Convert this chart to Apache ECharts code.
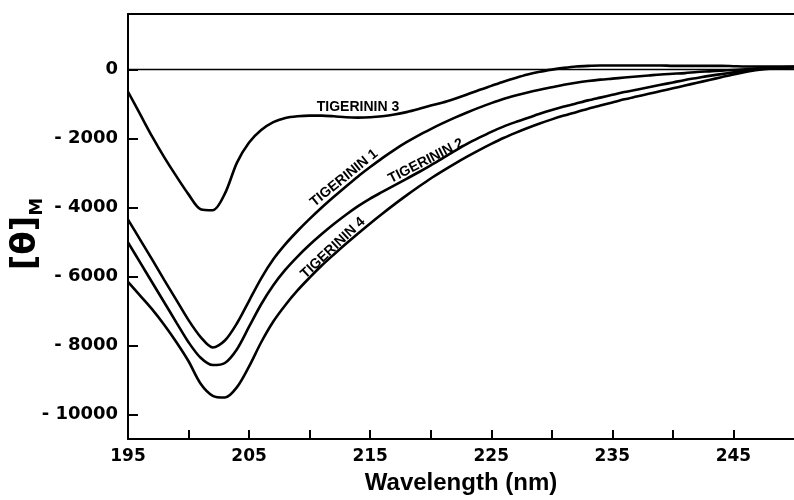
<!DOCTYPE html>
<html>
<head>
    <meta charset="utf-8"/>
    <title>ECharts</title>
    <script src="https://cdn.jsdelivr.net/npm/echarts@6/dist/echarts.min.js"></script>
</head>
<body style="margin: 0">
<div id="main" style="width: 794px; height: 500px"></div>
<script type="text/javascript">
    // wavelength (nm), one reading per nm
    var wavelength = [195, 196, 197, 198, 199, 200, 201, 202, 203, 204, 205, 206, 207, 208, 209,
        210, 211, 212, 213, 214, 215, 216, 217, 218, 219, 220, 221, 222, 223, 224, 225, 226, 227,
        228, 229, 230, 231, 232, 233, 234, 235, 236, 237, 238, 239, 240, 241, 242, 243, 244, 245,
        246, 247, 248, 249, 250];

    // [θ]M
    var tigerinin1 = [-4350, -4930, -5510, -6100, -6680, -7260, -7750, -8050, -7850, -7350, -6700,
        -6050, -5500, -5060, -4680, -4330, -4000, -3690, -3390, -3100, -2830, -2570, -2330, -2110,
        -1910, -1730, -1560, -1400, -1250, -1110, -980, -860, -760, -670, -590, -520, -450, -390,
        -340, -300, -270, -240, -210, -180, -150, -130, -110, -80, -60, -40, -20, 0, 30, 50, 60, 70];
    var tigerinin2 = [-5010, -5590, -6170, -6750, -7330, -7900, -8350, -8560, -8500, -8100, -7450,
        -6800, -6250, -5800, -5420, -5080, -4770, -4480, -4210, -3960, -3740, -3550, -3360, -3170,
        -2980, -2780, -2570, -2360, -2160, -1980, -1810, -1660, -1530, -1410, -1290, -1180, -1080,
        -990, -900, -820, -740, -660, -590, -520, -450, -380, -310, -250, -190, -140, -90, -40, 0,
        30, 50, 60];
    var tigerinin3 = [-650, -1300, -1950, -2550, -3100, -3620, -4050, -4080, -3600, -2700, -2120,
        -1760, -1530, -1410, -1360, -1340, -1340, -1360, -1390, -1400, -1390, -1360, -1310, -1240,
        -1150, -1050, -960, -850, -730, -600, -480, -360, -250, -150, -70, -10, 40, 80, 100, 110,
        110, 110, 110, 110, 110, 100, 100, 100, 100, 100, 90, 80, 80, 80, 80, 80];
    var tigerinin4 = [-6150, -6550, -6950, -7400, -7900, -8450, -9100, -9450, -9500, -9200, -8600,
        -7900, -7300, -6820, -6400, -6030, -5680, -5360, -5050, -4750, -4460, -4180, -3910, -3650,
        -3400, -3160, -2940, -2730, -2530, -2340, -2160, -1990, -1840, -1700, -1570, -1450, -1340,
        -1240, -1140, -1050, -960, -870, -790, -710, -630, -550, -470, -390, -310, -230, -150, -80,
        -20, 20, 40, 50];

    // ticks and labels
    var xTickValues = [195, 200, 205, 210, 215, 220, 225, 230, 235, 240, 245];
    var xLabelValues = [195, 205, 215, 225, 235, 245];
    var yTickValues = [-10000, -8000, -6000, -4000, -2000, 0];

    function pairs(ys) {
        return wavelength.map(function (x, i) {
            return [x, ys[i]];
        });
    }

    function curve(name, ys) {
        return {
            name: name,
            type: 'line',
            data: pairs(ys),
            showSymbol: false,
            smooth: 0.3,
            lineStyle: {color: '#000', width: 2.6},
            xAxisIndex: 0,
            yAxisIndex: 0
        };
    }

    var labelFont = 'Liberation Sans';
    function curveLabel(text, x, y, deg) {
        return {
            type: 'text',
            x: x,
            y: y,
            rotation: deg * Math.PI / 180,
            style: {
                text: text,
                fill: '#000',
                font: 'bold 14px "Liberation Sans"',
                align: 'center',
                verticalAlign: 'middle'
            }
        };
    }

    var myChart = echarts.init(document.getElementById('main'));

    var series = [
        curve('TIGERININ 1', tigerinin1),
        curve('TIGERININ 2', tigerinin2),
        curve('TIGERININ 3', tigerinin3),
        curve('TIGERININ 4', tigerinin4)
    ];
    // zero line
    series[0].markLine = {
        silent: true,
        symbol: 'none',
        label: {show: false},
        lineStyle: {color: '#000', width: 1.4, type: 'solid'},
        data: [{yAxis: 0}]
    };

    var option = {
        animation: false,
        backgroundColor: '#fff',
        grid: {left: 128, right: -10, top: 14, bottom: 59},
        xAxis: [{
            type: 'value',
            min: 195,
            max: 250,
            name: 'Wavelength (nm)',
            nameLocation: 'middle',
            nameGap: 32,
            nameTextStyle: {color: '#000', fontFamily: labelFont, fontWeight: 'bold', fontSize: 24},
            axisLine: {onZero: false, lineStyle: {color: '#000', width: 2}},
            axisTick: {inside: true, length: 9, customValues: xTickValues, lineStyle: {color: '#000', width: 2}},
            axisLabel: {
                customValues: xLabelValues,
                color: '#000',
                fontFamily: 'DejaVu Sans',
                fontWeight: 'bold',
                fontSize: 17,
                margin: 9
            },
            splitLine: {show: false}
        }, {
            // top frame line
            type: 'value',
            position: 'top',
            min: 195,
            max: 250,
            axisLine: {show: true, onZero: false, lineStyle: {color: '#000', width: 2}},
            axisTick: {show: false},
            axisLabel: {show: false},
            splitLine: {show: false}
        }],
        yAxis: {
            type: 'value',
            min: -10700,
            max: 1600,
            axisLine: {show: true, onZero: false, lineStyle: {color: '#000', width: 2}},
            axisTick: {show: true, inside: true, length: 10, customValues: yTickValues, lineStyle: {color: '#000', width: 2}},
            axisLabel: {
                customValues: yTickValues,
                color: '#000',
                fontFamily: 'DejaVu Sans',
                fontWeight: 'bold',
                fontSize: 18,
                margin: 10,
                formatter: function (v) {
                    return v < 0 ? '- ' + Math.abs(v) : String(v);
                }
            },
            splitLine: {show: false}
        },
        graphic: [
            {
                type: 'text',
                x: 26,
                y: 234,
                rotation: Math.PI / 2,
                style: {
                    text: '{a|[θ]}{b|M}',
                    align: 'center',
                    verticalAlign: 'middle',
                    rich: {
                        a: {fontSize: 34, fontFamily: 'DejaVu Sans', fontWeight: 'bold', fill: '#000', lineHeight: 40},
                        b: {fontSize: 18, fontFamily: 'DejaVu Sans', fontWeight: 'bold', fill: '#000', verticalAlign: 'bottom', lineHeight: 40}
                    }
                }
            },
            curveLabel('TIGERININ 3', 358, 107, 0),
            curveLabel('TIGERININ 1', 344, 178, 39),
            curveLabel('TIGERININ 2', 426, 161, 27),
            curveLabel('TIGERININ 4', 333, 248, 43)
        ],
        series: series
    };

    myChart.setOption(option);
</script>
</body>
</html>
